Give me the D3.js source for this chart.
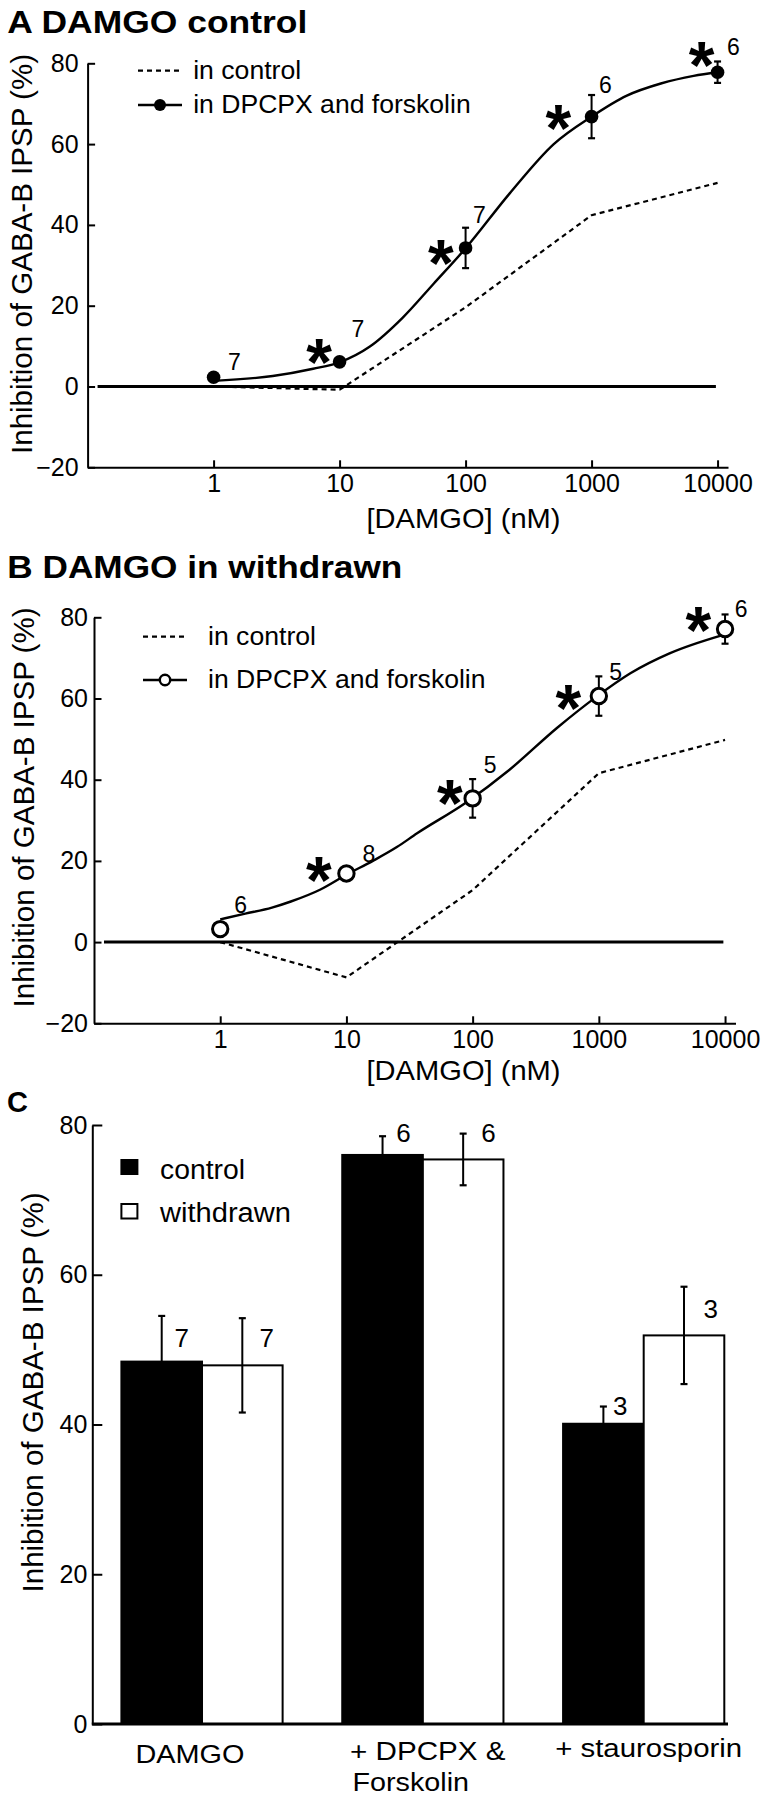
<!DOCTYPE html>
<html><head><meta charset="utf-8">
<script src="https://cdn.jsdelivr.net/npm/d3@7"></script>
<style>
body{margin:0;background:#fff;}
svg text{font-family:"Liberation Sans", Arial, Helvetica, sans-serif; fill:#000;}
</style></head><body>
<svg id="chart" width="762" height="1800" xmlns="http://www.w3.org/2000/svg"></svg>
<script>
// ---------------- DATA ----------------
const concentrations = [1, 10, 100, 1000, 10000];          // DAMGO (nM)
const doseTickValues = [1, 10, 100, 1000, 10000];
const doseYTicks = [-20, 0, 20, 40, 60, 80];
const barYTicks = [0, 20, 40, 60, 80];
const zeroLineConc = [0.12, 9700];

// Panel A : DAMGO control (in DPCPX and forskolin)
const ctrlRats_mean = [2.3, 6.1, 34.3, 66.8, 77.8];
const ctrlRats_sem = [0, 0, 5.0, 5.35, 2.65];
const ctrlRats_n = [7, 7, 7, 6, 6];
const ctrlRats_sig = [false, true, true, true, true];
const ctrlRats_inControl = [0, -0.8, 19.6, 42.4, 50.4];
const ctrlRats_fitConc = [1, 2.95, 6.17, 10, 17.4, 31.6, 56, 100, 224, 501, 1000, 1905, 3548, 6457, 10000];
const ctrlRats_fitValue = [1.4, 2.6, 4.4, 6.0, 9.9, 17.0, 25.5, 34.2, 47.8, 60.0, 66.8, 72.0, 75.0, 76.9, 77.8];

// Panel B : DAMGO in withdrawn (in DPCPX and forskolin)
const wdRats_mean = [3.2, 16.9, 35.4, 60.6, 77.1];
const wdRats_sem = [0, 0, 4.75, 4.85, 3.6];
const wdRats_n = [6, 8, 5, 5, 6];
const wdRats_sig = [false, true, true, true, true];
const wdRats_inControl = [0, -8.7, 12.8, 41.6, 49.8];
const wdRats_fitConc = [1, 1.58, 2.57, 3.63, 6.17, 10, 16.2, 25.1, 36.3, 87.1, 195, 468, 955, 1778, 3631, 9550];
const wdRats_fitValue = [5.6, 7.0, 8.5, 10.0, 12.9, 16.6, 20.0, 23.4, 26.8, 34.2, 42.4, 52.8, 60.4, 66.2, 71.1, 75.6];

// Panel C : bars
const barCategories = ["DAMGO", "+ DPCPX & Forskolin", "+ staurosporin"];
const barCategoryLines = [["DAMGO"], ["+ DPCPX &", "Forskolin"], ["+ staurosporin"]];
const barSeries = ["control", "withdrawn"];
const barControl_mean = [48.4, 76.0, 40.1];
const barControl_sem = [6.1, 2.5, 2.3];
const barControl_n = [7, 6, 3];
const barWithdrawn_mean = [47.9, 75.4, 51.9];
const barWithdrawn_sem = [6.3, 3.45, 6.5];
const barWithdrawn_n = [7, 6, 3];

// ---------------- LAYOUT ----------------
const svg = d3.select("#chart");
const FONT = '"Liberation Sans", Arial, Helvetica, sans-serif';

function txt(g, s, x, y, size, opts = {}) {
  const t = g.append("text").attr("x", x).attr("y", y)
    .attr("font-size", size).attr("font-family", FONT).text(s);
  if (opts.bold) t.attr("font-weight", "bold");
  if (opts.anchor) t.attr("text-anchor", opts.anchor);
  if (opts.len) t.attr("textLength", opts.len).attr("lengthAdjust", "spacingAndGlyphs");
  return t;
}

function drawDosePanel(cfg) {
  const g = svg.append("g");
  const x = d3.scaleLog().domain([0.1, 12100]).range([cfg.x0, cfg.x1]);
  const y = d3.scaleLinear().domain([-20, 80]).range([cfg.yBottom, cfg.yTop]);

  // title
  txt(g, cfg.title, 7.3, cfg.titleY, 32, {bold: true, len: cfg.titleLen});

  // axes
  const ax = g.append("g").attr("transform", `translate(0,${cfg.yBottom})`)
    .call(d3.axisBottom(x).tickValues(doseTickValues).tickFormat(d3.format("d"))
      .tickSize(-7).tickSizeOuter(0).tickPadding(7));
  const ay = g.append("g").attr("transform", `translate(${cfg.x0},0)`)
    .call(d3.axisLeft(y).tickValues(doseYTicks).tickSize(-7.5).tickSizeOuter(0).tickPadding(cfg.yPad));
  [ax, ay].forEach(a => {
    a.select(".domain").attr("stroke-width", 2);
    a.selectAll(".tick line").attr("stroke-width", 2);
    a.selectAll(".tick text").attr("font-size", 25).attr("font-family", FONT);
  });

  // axis titles
  txt(g, "[DAMGO] (nM)", 366.5, cfg.xTitleY, 28, {len: 194});
  g.append("text").attr("transform", `translate(${cfg.yTitleX},${cfg.yTitleCY}) rotate(-90)`)
    .attr("text-anchor", "middle").attr("font-size", 29.5).attr("font-family", FONT)
    .attr("textLength", 400).attr("lengthAdjust", "spacingAndGlyphs")
    .text("Inhibition of GABA-B IPSP (%)");

  // zero line
  g.append("line").attr("x1", x(zeroLineConc[0])).attr("x2", x(zeroLineConc[1]))
    .attr("y1", y(0)).attr("y2", y(0)).attr("stroke", "#000").attr("stroke-width", 3);

  // "in control" dashed line
  const straight = d3.line().x(d => x(d[0])).y(d => y(d[1]));
  g.append("path").datum(concentrations.map((c, i) => [c, cfg.inControl[i]]))
    .attr("d", straight).attr("fill", "none").attr("stroke", "#000")
    .attr("stroke-width", 2.2).attr("stroke-dasharray", "5,4");

  // fitted curve
  const smooth = d3.line().x(d => x(d[0])).y(d => y(d[1])).curve(d3.curveMonotoneX);
  g.append("path").datum(cfg.fitConc.map((c, i) => [c, cfg.fitValue[i]]))
    .attr("d", smooth)
    .attr("fill", "none").attr("stroke", "#000").attr("stroke-width", 2.4);

  // error bars
  concentrations.forEach((c, i) => {
    const e = cfg.sem[i]; if (!e) return;
    const cx = x(c);
    const y1 = y(cfg.mean[i] + e), y2 = y(cfg.mean[i] - e);
    g.append("line").attr("x1", cx).attr("x2", cx).attr("y1", y1).attr("y2", y2)
      .attr("stroke", "#000").attr("stroke-width", 2);
    [y1, y2].forEach(yy => g.append("line").attr("x1", cx - 3.5).attr("x2", cx + 3.5)
      .attr("y1", yy).attr("y2", yy).attr("stroke", "#000").attr("stroke-width", 2.2));
  });

  // markers
  g.selectAll("circle.pt").data(concentrations).enter().append("circle")
    .attr("cx", d => x(d)).attr("cy", (d, i) => y(cfg.mean[i]))
    .attr("r", cfg.filled ? 6.8 : 7.7)
    .attr("fill", cfg.filled ? "#000" : "#fff")
    .attr("stroke", "#000").attr("stroke-width", cfg.filled ? 0 : 3);

  // n labels and asterisks
  concentrations.forEach((c, i) => {
    const px = x(c), py = y(cfg.mean[i]);
    const o = cfg.nOff[i];
    txt(g, String(cfg.n[i]), px + o[0], py + o[1], 23);
    if (cfg.sig[i]) {
      const s = cfg.starOff[i];
      txt(g, "*", px + s[0], py + s[1] + 33, 66, {bold: true, anchor: "middle"});
    }
  });

  // legend
  const lg = g.append("g");
  lg.append("line").attr("x1", cfg.legX0).attr("x2", cfg.legX0 + 44)
    .attr("y1", cfg.legY1).attr("y2", cfg.legY1).attr("stroke", "#000")
    .attr("stroke-width", 2.2).attr("stroke-dasharray", "5,4");
  lg.append("line").attr("x1", cfg.legX0).attr("x2", cfg.legX0 + 44)
    .attr("y1", cfg.legY2).attr("y2", cfg.legY2).attr("stroke", "#000").attr("stroke-width", 2.4);
  lg.append("circle").attr("cx", cfg.legX0 + 22).attr("cy", cfg.legY2)
    .attr("r", cfg.filled ? 6 : 5.2).attr("fill", cfg.filled ? "#000" : "#fff")
    .attr("stroke", "#000").attr("stroke-width", cfg.filled ? 0 : 2.4);
  txt(lg, "in control", cfg.legTextX, cfg.legY1 + 7.8, 26, {len: 108});
  txt(lg, "in DPCPX and forskolin", cfg.legTextX, cfg.legY2 + 8.3, 26, {len: 277.5});
}

drawDosePanel({
  title: "A DAMGO control", titleY: 33.3, titleLen: 300,
  x0: 87.6, x1: 728, yBottom: 467.3, yTop: 63.3, yPad: 9,
  xTitleY: 528.3, yTitleX: 31.6, yTitleCY: 254,
  mean: ctrlRats_mean, sem: ctrlRats_sem, n: ctrlRats_n, sig: ctrlRats_sig,
  inControl: ctrlRats_inControl, fitConc: ctrlRats_fitConc, fitValue: ctrlRats_fitValue,
  filled: true,
  nOff: [[14.4, -7], [12, -25], [7.4, -24.5], [7.4, -24], [9.4, -17]],
  starOff: [null, [-20.4, -10.2], [-24.8, 5.5], [-33.3, 1.7], [-15.9, -17.2]],
  legX0: 138, legY1: 70.7, legY2: 105, legTextX: 193.2
});

drawDosePanel({
  title: "B DAMGO in withdrawn", titleY: 578.3, titleLen: 395,
  x0: 94, x1: 735.5, yBottom: 1023.3, yTop: 617.3, yPad: 6,
  xTitleY: 1080, yTitleX: 34, yTitleCY: 807.5,
  mean: wdRats_mean, sem: wdRats_sem, n: wdRats_n, sig: wdRats_sig,
  inControl: wdRats_inControl, fitConc: wdRats_fitConc, fitValue: wdRats_fitValue,
  filled: false,
  nOff: [[14, -16], [16, -11], [11, -25], [10.5, -16], [9.7, -12]],
  starOff: [null, [-27.6, -3.3], [-22.8, -5], [-30.5, 2.3], [-26.7, -9]],
  legX0: 143, legY1: 636.7, legY2: 680, legTextX: 208
});

// ---------------- PANEL C ----------------
(function () {
  const g = svg.append("g");
  const x0 = d3.scaleBand().domain(barCategories).range([121.4, 724.3]).paddingInner(0.27).paddingOuter(0);
  const x1 = d3.scaleBand().domain(barSeries).range([0, x0.bandwidth()]);
  const y = d3.scaleLinear().domain([0, 80]).range([1724, 1125]);
  const axisX = 92.3;

  txt(g, "C", 7, 1111.7, 29, {bold: true});

  const ay = g.append("g").attr("transform", `translate(${axisX},0)`)
    .call(d3.axisLeft(y).tickValues(barYTicks).tickSize(-10).tickSizeOuter(0).tickPadding(5));
  ay.select(".domain").attr("stroke-width", 2);
  ay.selectAll(".tick line").attr("stroke-width", 2);
  ay.selectAll(".tick text").attr("font-size", 25).attr("font-family", FONT);

  g.append("text").attr("transform", `translate(43,1392.5) rotate(-90)`)
    .attr("text-anchor", "middle").attr("font-size", 29.5).attr("font-family", FONT)
    .attr("textLength", 400).attr("lengthAdjust", "spacingAndGlyphs")
    .text("Inhibition of GABA-B IPSP (%)");

  const series = [
    {key: "control", mean: barControl_mean, sem: barControl_sem, n: barControl_n, fill: "#000"},
    {key: "withdrawn", mean: barWithdrawn_mean, sem: barWithdrawn_sem, n: barWithdrawn_n, fill: "#fff"}
  ];
  const nOff = {
    control: [[12.7, 31.4], [13.6, 5.5], [9.5, 8.5]],
    withdrawn: [[17.3, 29.1], [18.1, 8.1], [19.5, 31.6]]
  };

  series.forEach(s => {
    barCategories.forEach((cat, i) => {
      const bx = x0(cat) + x1(s.key), bw = x1.bandwidth();
      g.append("rect").attr("x", bx).attr("y", y(s.mean[i]))
        .attr("width", bw).attr("height", y(0) - y(s.mean[i]))
        .attr("fill", s.fill).attr("stroke", "#000").attr("stroke-width", 2);
      const cx = bx + bw / 2;
      const yt = y(s.mean[i] + s.sem[i]), yb = y(s.mean[i] - s.sem[i]);
      g.append("line").attr("x1", cx).attr("x2", cx).attr("y1", yt).attr("y2", yb)
        .attr("stroke", "#000").attr("stroke-width", 2);
      [yt, yb].forEach(yy => g.append("line").attr("x1", cx - 3.5).attr("x2", cx + 3.5)
        .attr("y1", yy).attr("y2", yy).attr("stroke", "#000").attr("stroke-width", 2.2));
      const o = nOff[s.key][i];
      txt(g, String(s.n[i]), cx + o[0], yt + o[1], 26);
    });
  });

  // x axis baseline
  g.append("line").attr("x1", axisX - 0.5).attr("x2", 728).attr("y1", y(0)).attr("y2", y(0))
    .attr("stroke", "#000").attr("stroke-width", 3);

  // category labels
  const catLayout = [
    {anchor: "middle", dx: -12, lens: [109]},
    {anchor: "start", dx: -72.8, lens: [155.5, 116.5]},
    {anchor: "middle", dx: 5, lens: [187]}
  ];
  const lineY = [[1763], [1760, 1790.7], [1756.7]];
  barCategories.forEach((cat, i) => {
    const cx = x0(cat) + x0.bandwidth() / 2;
    barCategoryLines[i].forEach((line, j) => {
      const dxx = (i === 1 && j === 1) ? catLayout[i].dx + 2.5 : catLayout[i].dx;
      txt(g, line, cx + dxx, lineY[i][j], 26, {anchor: catLayout[i].anchor, len: catLayout[i].lens[j]});
    });
  });

  // legend
  g.append("rect").attr("x", 120.4).attr("y", 1159).attr("width", 18).attr("height", 16).attr("fill", "#000");
  g.append("rect").attr("x", 121.4).attr("y", 1204).attr("width", 16).attr("height", 14.5)
    .attr("fill", "#fff").attr("stroke", "#000").attr("stroke-width", 2);
  txt(g, barSeries[0], 160, 1179, 27, {len: 85});
  txt(g, barSeries[1], 160, 1221.7, 27, {len: 131});
})();
</script>
</body></html>
